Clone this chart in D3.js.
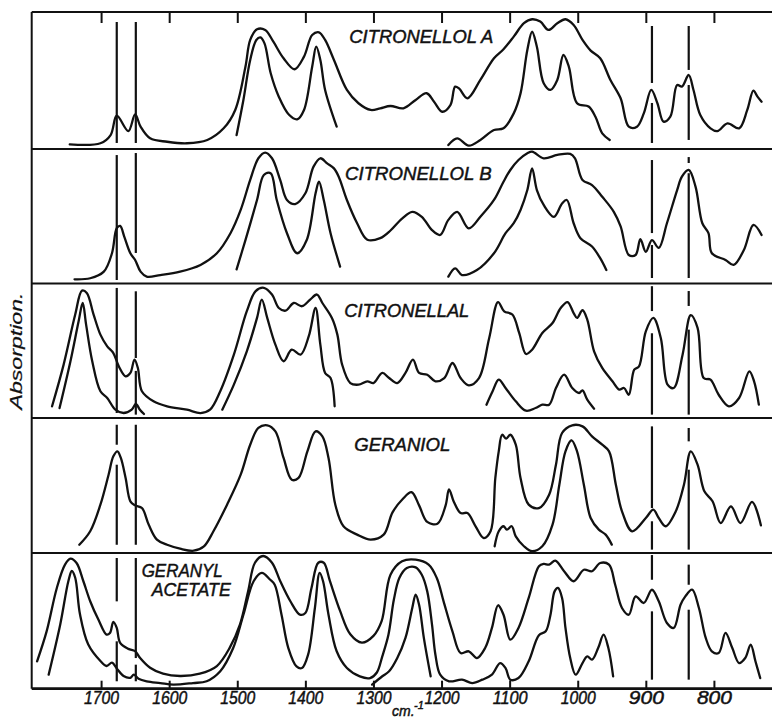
<!DOCTYPE html>
<html>
<head>
<meta charset="UTF-8">
<title>Infrared absorption spectra</title>
<style>
  body { margin: 0; background: #fff; }
  svg text { font-family: "Liberation Sans", "DejaVu Sans", sans-serif; font-style: italic; fill: #111; stroke: #111; stroke-width: 0.45px; }
</style>
</head>
<body>
<div id="chart"></div>

<script src="https://d3js.org/d3.v7.min.js"></script>
<script>
// compound names, one per panel (top to bottom)
var compoundNames = ["CITRONELLOL A", "CITRONELLOL B", "CITRONELLAL", "GERANIOL", "GERANYL ACETATE"];

// tick labels on the wavenumber axis (cm-1)
var tickValues = [1700, 1600, 1500, 1400, 1300, 1200, 1100, 1000, 900, 800];

// spectra: [wavenumber cm-1, absorption % of panel height]
var citronellolA_thick = [[1746,3.4],[1701,4.2],[1686,10.2],[1677,24.3],[1660,13.1],[1650,25.3],[1642,16.3],[1628,7.8],[1603,5.3],[1574,4.2],[1544,6.6],[1520,15.1],[1503,28.5],[1488,60],[1481,79.6],[1471,87.4],[1459,86.9],[1447,78.3],[1432,66.2],[1416,58.2],[1402,67.4],[1390,83.2],[1380,85.2],[1371,79.6],[1358,65],[1339,43.1],[1322,33.4],[1304,28.5],[1290,29.7],[1275,31.4],[1256,29.7],[1238,35.8],[1222,40.7],[1211,34.5],[1199,27.2],[1187,32.1],[1180,45.5],[1174,44],[1162,37],[1143,50.4],[1123,66.2],[1109,72.8],[1094,82],[1079,91.8],[1067,94.7],[1055,93],[1043,86.9],[1030,91.8],[1018,94.7],[1006,90.5],[993,79.6],[981,71.8],[967,66.2],[952,50.4],[937,37],[925,16.3],[913,16.3],[903,26],[892,43.1],[883,33.4],[874,20],[864,23.6],[854,46.7],[847,45.5],[837,54],[830,43.1],[820,24.8],[805,15.1],[795,13.1],[780,18.7],[763,15.1],[751,28.5],[742,42.6],[736,38.2],[730,34.5]];
var citronellolA_thinA = [[1501,10.2],[1491,35.8],[1481,65],[1472,79.6],[1466,81.5],[1460,77.1],[1451,55.5],[1439,38.2],[1424,25],[1412,21.7],[1402,28.5],[1390,60],[1384,74.7],[1378,65],[1371,43.1],[1354,16.3]];
var citronellolA_thinB = [[1190,2.9],[1177,7.8],[1160,2.4],[1143,6.6],[1123,13.9],[1109,15.1],[1094,26],[1084,40.6],[1074,72.3],[1067,85.6],[1060,74.7],[1050,48],[1040,43.1],[1030,50.4],[1021,68.6],[1013,60],[1001,33.4],[984,31],[974,23.6],[964,11.4],[953,6.6]];

var citronellolB_thick = [[1739,3.1],[1716,3.9],[1696,8.8],[1684,22.5],[1677,41.1],[1672,42.8],[1666,34.9],[1657,22.5],[1650,17.5],[1642,8.8],[1633,5.1],[1613,6.3],[1584,8.8],[1554,13.8],[1530,22.5],[1510,37.4],[1495,54.7],[1481,77],[1469,93.1],[1459,97.3],[1449,93.1],[1437,77],[1427,62.1],[1415,59.1],[1400,67.1],[1388,86.9],[1378,93.1],[1368,89.3],[1358,85.6],[1351,79.4],[1339,62.1],[1324,44.8],[1309,32.5],[1290,33.7],[1275,39.4],[1258,48.3],[1243,53.3],[1229,49.6],[1214,39.7],[1202,36.1],[1190,47.3],[1177,53.3],[1160,41],[1143,49.6],[1123,62.1],[1109,75.7],[1099,84.4],[1087,91.8],[1074,96.8],[1067,98.1],[1050,93.1],[1030,95.6],[1011,96.4],[1004,93.1],[993,77],[979,73.2],[964,64.5],[947,53.3],[937,42.4],[925,21.2],[915,21.2],[908,32.9],[900,23.5],[891,32.2],[881,26.5],[869,44.8],[854,69.5],[847,79.4],[837,84.4],[827,72],[817,44.8],[808,37.4],[803,22.5],[783,17.5],[771,13.8],[756,24.9],[742,43.5],[730,36.1]];
var citronellolB_thinA = [[1501,10.5],[1488,32.3],[1471,62.1],[1461,80.7],[1451,82],[1442,62.1],[1427,37.4],[1412,22.5],[1398,32.3],[1385,67.1],[1380,75.7],[1373,62.1],[1363,37.4],[1349,12.6]];
var citronellolB_thinB = [[1190,5.1],[1180,11.3],[1170,6.3],[1148,10],[1123,22.5],[1106,37.4],[1094,44.8],[1084,54.7],[1074,69.5],[1067,85.6],[1060,69.5],[1050,58.4],[1035,49.6],[1023,59.5],[1016,62.1],[1006,44.8],[996,33.7],[979,27.5],[967,18.8],[958,10]];

var citronellal_thick = [[1772,8.7],[1755,39.7],[1738,76.9],[1728,94.7],[1721,93],[1711,76.9],[1701,62],[1691,53.3],[1682,48.3],[1674,38.4],[1664,31],[1657,33.5],[1651,43.4],[1646,37.2],[1640,19.9],[1623,12.4],[1603,8.7],[1574,6.2],[1554,3.7],[1540,6.2],[1525,19.9],[1505,47.1],[1486,79.4],[1473,94.3],[1461,96.8],[1449,91.8],[1439,81.8],[1429,79.8],[1417,85.5],[1405,83.1],[1393,88],[1383,91.8],[1375,85.5],[1361,74.4],[1353,62],[1346,39.7],[1334,26],[1322,24.8],[1309,27.3],[1300,26],[1287,33.5],[1277,29.7],[1265,26],[1253,33.5],[1242,43.4],[1233,33.5],[1221,32.2],[1209,27.3],[1196,29.7],[1184,40.9],[1172,29.7],[1160,24.3],[1145,29.7],[1130,59.5],[1117,86.2],[1108,79.3],[1096,76.9],[1086,63.2],[1076,47.6],[1067,50.8],[1052,63.2],[1037,70.6],[1025,81.8],[1015,86.2],[1006,78],[1001,74.4],[993,80.1],[986,73.2],[976,49.6],[964,37.2],[949,27.3],[939,21.1],[932,22.3],[925,17.3],[917,35.9],[910,38.4],[900,64.4],[889,74.4],[878,59.5],[868,24.8],[859,22.3],[846,47.1],[834,76.4],[824,67],[815,29.7],[805,28.5],[793,17.3],[778,8.7],[763,14.9],[748,34.7],[741,27.3],[734,9.9]];
var citronellal_thinA = [[1761,7.4],[1745,42.2],[1733,71.9],[1727,85.5],[1722,69.4],[1713,42.2],[1701,19.9],[1691,14.9],[1679,6.2],[1667,3.7],[1655,6.2],[1649,10.4],[1643,6.2],[1637,3]];
var citronellal_thinB = [[1522,6.2],[1505,24.8],[1486,49.6],[1471,74.4],[1464,88],[1456,74.4],[1444,54.5],[1432,42.2],[1420,50.8],[1407,47.1],[1395,60.8],[1385,81.8],[1378,54.5],[1371,33.5],[1363,29.7],[1357,8.7]];
var citronellal_thinC = [[1134,9.9],[1125,19.9],[1116,28.5],[1106,22.3],[1091,12.4],[1076,5.4],[1062,7.4],[1052,9.9],[1042,9.9],[1032,22.3],[1020,32.2],[1008,22.3],[998,18.6],[993,20.6],[986,13.6],[976,6.9]];

var geraniol_thick = [[1732,6.1],[1716,16.1],[1701,35.8],[1689,58],[1682,71.6],[1676,75.3],[1671,70.4],[1664,55.6],[1657,38.3],[1650,35.3],[1640,33.3],[1630,20.9],[1618,9.9],[1603,6.1],[1584,3.2],[1564,1.7],[1549,4.9],[1535,16.1],[1515,35.8],[1495,58],[1481,80.2],[1469,92.6],[1456,94.6],[1444,90.1],[1432,70.4],[1420,54.3],[1410,55.6],[1397,75.3],[1385,90.1],[1375,86.4],[1366,70.4],[1356,35.8],[1344,19.8],[1324,13.6],[1304,9.9],[1285,13.6],[1272,30.1],[1257,40],[1244,45],[1233,35.3],[1221,23],[1206,21.7],[1194,35.3],[1189,47.2],[1182,38],[1172,29.6],[1162,29.6],[1150,19.8],[1138,11.1],[1128,16.1],[1121,55.6],[1116,75.3],[1111,87.6],[1105,84.7],[1099,87.6],[1091,80.2],[1084,55.6],[1072,35.8],[1057,33.3],[1042,43.2],[1032,65.4],[1023,88.9],[1008,94.6],[993,93.8],[979,86.4],[964,80.2],[954,75.3],[944,50.6],[935,30.9],[920,16.1],[900,25.9],[889,32.1],[881,25.9],[871,19.8],[856,30.9],[844,50.6],[834,75.3],[824,65.4],[814,45.7],[802,38.3],[790,22.2],[775,34.6],[761,22.2],[744,37.8],[731,20.5]];
var geraniol_thin = [[1122,5],[1116,16.1],[1109,19.8],[1104,17.3],[1097,19.8],[1091,12.3],[1079,5],[1067,1.3],[1052,5],[1037,21],[1027,50.6],[1018,75.3],[1009,83.5],[1001,75.3],[991,50.6],[981,25.9],[969,17.3],[959,13.6],[950,6.2]];

var geranylAcetate_thick = [[1794,20.3],[1780,42.5],[1765,74.6],[1753,91.9],[1745,96.3],[1736,93.1],[1726,79.6],[1716,64.8],[1704,51.2],[1692,40.1],[1687,41.3],[1682,49.5],[1677,45],[1672,33.9],[1660,29.5],[1650,27.8],[1643,22.9],[1628,15.5],[1609,11.1],[1584,9.4],[1555,11.1],[1530,16.8],[1511,30.4],[1496,47.6],[1484,72.4],[1474,93.3],[1462,98.3],[1449,93.3],[1437,79.8],[1422,64.8],[1408,54.9],[1400,56.1],[1391,74.6],[1381,93.3],[1373,93.3],[1364,79.8],[1349,57.6],[1334,40.3],[1317,34.1],[1300,39.1],[1288,50],[1275,84.4],[1258,94.4],[1238,95.6],[1219,91.9],[1207,82],[1197,64.7],[1184,42.5],[1172,26.4],[1160,27.7],[1148,22.7],[1136,30.1],[1126,45],[1117,61.8],[1109,54.8],[1099,36.3],[1087,45],[1072,67.2],[1057,90.7],[1050,92.4],[1042,91.9],[1033,94.8],[1020,87],[1006,79.6],[991,88.1],[979,87],[967,93.1],[954,91.9],[945,77],[935,59.8],[925,54.8],[915,68.4],[903,63.5],[891,73.3],[881,64.7],[869,48.7],[859,45],[849,62.2],[842,68.4],[832,73.3],[822,59.8],[812,37.6],[803,27.7],[793,26.4],[783,41.3],[773,30.1],[763,19],[754,22.7],[746,32.6],[739,20.3],[732,7.9]];
var geranylAcetate_thin = [[1777,10.4],[1760,47.6],[1748,79.8],[1743,87.2],[1738,82.2],[1731,55.1],[1719,32.9],[1701,20.5],[1692,16.8],[1684,19.3],[1677,15],[1667,9.4],[1657,8.1],[1652,10.4],[1645,7.4],[1633,5.5],[1613,4.2],[1594,3],[1565,4.2],[1545,5.5],[1525,12.9],[1506,30.1],[1491,54.8],[1476,79.6],[1464,85.8],[1452,80.9],[1445,77],[1435,54.8],[1425,30.1],[1413,16.5],[1405,15.3],[1396,25.2],[1386,59.8],[1379,85.8],[1374,79.6],[1366,54.8],[1354,27.7],[1339,15.3],[1320,9.1],[1305,7.9],[1295,12],[1287,24],[1278,40],[1270,66],[1262,82],[1251,89.4],[1238,89.9],[1229,84.4],[1221,72.1],[1214,47.4],[1209,25.2],[1202,10.4],[1189,5.5],[1170,6.7],[1155,4.2],[1140,6.7],[1126,10.4],[1114,19],[1106,15.3],[1099,6.7],[1087,7.9],[1072,20.3],[1057,39.6],[1047,42.5],[1040,54.8],[1034,72.1],[1029,74.6],[1023,67.2],[1018,45],[1011,22.7],[1003,10.4],[993,19],[986,24],[979,21.5],[970,30.1],[962,40],[955,30.1],[948,9.2]];
var geranylAcetate_thinner = [[1302,3],[1287,9.2],[1277,12.9],[1265,22.7],[1253,37.6],[1243,59.8],[1238,69.6],[1233,62.2],[1226,37.6],[1216,9.2]];

// traces drawn in each panel
var panelTraces = [
  [citronellolA_thick, citronellolA_thinA, citronellolA_thinB],
  [citronellolB_thick, citronellolB_thinA, citronellolB_thinB],
  [citronellal_thick, citronellal_thinA, citronellal_thinB, citronellal_thinC],
  [geraniol_thick, geraniol_thin],
  [geranylAcetate_thick, geranylAcetate_thin, geranylAcetate_thinner]
];

// reference bands marked by vertical lines: [wavenumber, panel, from %, to %]
var guideLines = [
  [1677,0,92.7,4.4],[1649,0,92.7,4.4],[891,0,89.8,48.2],[891,0,33.6,4.4],[837,0,89.8,57.7],[837,0,46.7,6.6],
  [1677,1,95.5,2.6],[1649,1,97,22.7],[891,1,91.8,37.5],[891,1,28.6,4.1],[837,1,94,89.6],[837,1,82,4.1],
  [1677,2,96.7,3.7],[1649,2,94.2,44.6],[1649,2,35,2.5],[891,2,98,79.5],[891,2,63,2.5],[837,2,94.4,83.3],[837,2,65.7,2.5],
  [1677,3,95,80.2],[1677,3,65.4,6.1],[1649,3,95,6.1],[891,3,93.8,33.3],[891,3,23.5,2.5],[837,3,92.6,82.7],[837,3,61.7,2.5],
  [1677,4,96.8,64.7],[1677,4,35.1,5.5],[1649,4,96.8,22.7],[1649,4,17.8,5.5],[891,4,99,80.7],[891,4,57.3,6.7],[837,4,91.9,77],[837,4,58.5,6.7]
];

// ---- layout ----
var width = 772, height = 719;
var frameLeft = 31.7, frameRight = 790;
var panels = [
  {top: 12, bottom: 149},
  {top: 149, bottom: 283.5},
  {top: 283.5, bottom: 418},
  {top: 418, bottom: 553},
  {top: 553.7, bottom: 688.7}
];
// name label placement: x, baseline, width (second line for geranyl acetate)
var labelPos = [
  [[349.3, 42.7, 144]],
  [[345, 180, 146.7]],
  [[344.3, 317.3, 125]],
  [[354.3, 451.3, 96]],
  [[141.7, 577.3, 81], [151.7, 596.3, 79]]
];

var svg = d3.select("#chart").append("svg")
    .attr("width", width)
    .attr("height", height);

var x = d3.scaleLinear().domain([1800, 700]).range([33, 782]);

var ink = "#111";

// frame and panel dividers
svg.append("line")
    .attr("x1", frameLeft).attr("x2", frameLeft)
    .attr("y1", panels[0].top).attr("y2", panels[4].bottom)
    .style("stroke", ink).style("stroke-width", 2);
svg.append("line")
    .attr("x1", frameLeft).attr("x2", frameRight)
    .attr("y1", panels[0].top).attr("y2", panels[0].top)
    .style("stroke", ink).style("stroke-width", 2);
svg.selectAll(".divider")
    .data(panels)
    .enter()
    .append("line")
    .attr("class", "divider")
    .attr("x1", frameLeft).attr("x2", frameRight)
    .attr("y1", function (d) { return d.bottom; })
    .attr("y2", function (d) { return d.bottom; })
    .style("stroke", ink)
    .style("stroke-width", function (d, i) { return i == 4 ? 2.8 : 2; });

// top ticks
var topAxis = svg.append("g")
    .attr("transform", "translate(0," + panels[0].top + ")")
    .call(d3.axisTop(x).tickValues(tickValues).tickSize(-11).tickFormat(""));
topAxis.select(".domain").remove();
topAxis.selectAll("line").style("stroke", ink).style("stroke-width", 2);

// bottom axis
var bottomAxis = svg.append("g")
    .attr("transform", "translate(0," + panels[4].bottom + ")")
    .call(d3.axisBottom(x).tickValues(tickValues).tickSize(-8).tickPadding(3)
        .tickFormat(function (d) { return d; }));
bottomAxis.select(".domain").remove();
bottomAxis.selectAll("line").style("stroke", ink).style("stroke-width", 2);
bottomAxis.selectAll("text")
    .attr("font-family", null)
    .style("font-size", "18px")
    .style("fill", ink)
    .attr("textLength", 35)
    .attr("lengthAdjust", "spacingAndGlyphs");

// axis titles
svg.append("text")
    .attr("x", 392)
    .attr("y", 716)
    .style("font-size", "14px")
    .text("cm.");
svg.append("text")
    .attr("x", 414)
    .attr("y", 709)
    .style("font-size", "11px")
    .text("-1");

svg.append("text")
    .attr("transform", "translate(21.5,351) rotate(-90)")
    .attr("text-anchor", "middle")
    .attr("textLength", 117)
    .attr("lengthAdjust", "spacingAndGlyphs")
    .style("font-size", "17px")
    .style("stroke-width", "0.2px")
    .text("Absorption.");

// spectra
panelTraces.forEach(function (traces, i) {
    var p = panels[i];
    var y = d3.scaleLinear().domain([0, 100]).range([p.bottom, p.top]);

    var line = d3.line()
        .x(function (d) { return x(d[0]); })
        .y(function (d) { return y(d[1]); })
        .curve(d3.curveCatmullRom.alpha(0.5));

    var g = svg.append("g");

    g.selectAll(".guide")
        .data(guideLines.filter(function (d) { return d[1] == i; }))
        .enter()
        .append("line")
        .attr("x1", function (d) { return x(d[0]); })
        .attr("x2", function (d) { return x(d[0]); })
        .attr("y1", function (d) { return y(d[2]); })
        .attr("y2", function (d) { return y(d[3]); })
        .style("stroke", ink)
        .style("stroke-width", 2.2);

    g.selectAll(".trace")
        .data(traces)
        .enter()
        .append("path")
        .attr("d", line)
        .style("fill", "none")
        .style("stroke", ink)
        .style("stroke-width", 2.3)
        .style("stroke-linejoin", "round")
        .style("stroke-linecap", "round");

    var words = i == 4 ? compoundNames[i].split(" ") : [compoundNames[i]];
    words.forEach(function (w, k) {
        var pos = labelPos[i][k];
        g.append("text")
            .attr("x", pos[0])
            .attr("y", pos[1])
            .attr("textLength", pos[2])
            .attr("lengthAdjust", "spacingAndGlyphs")
            .style("font-size", "17.5px")
            .text(w);
    });
});
</script>
</body>
</html>
